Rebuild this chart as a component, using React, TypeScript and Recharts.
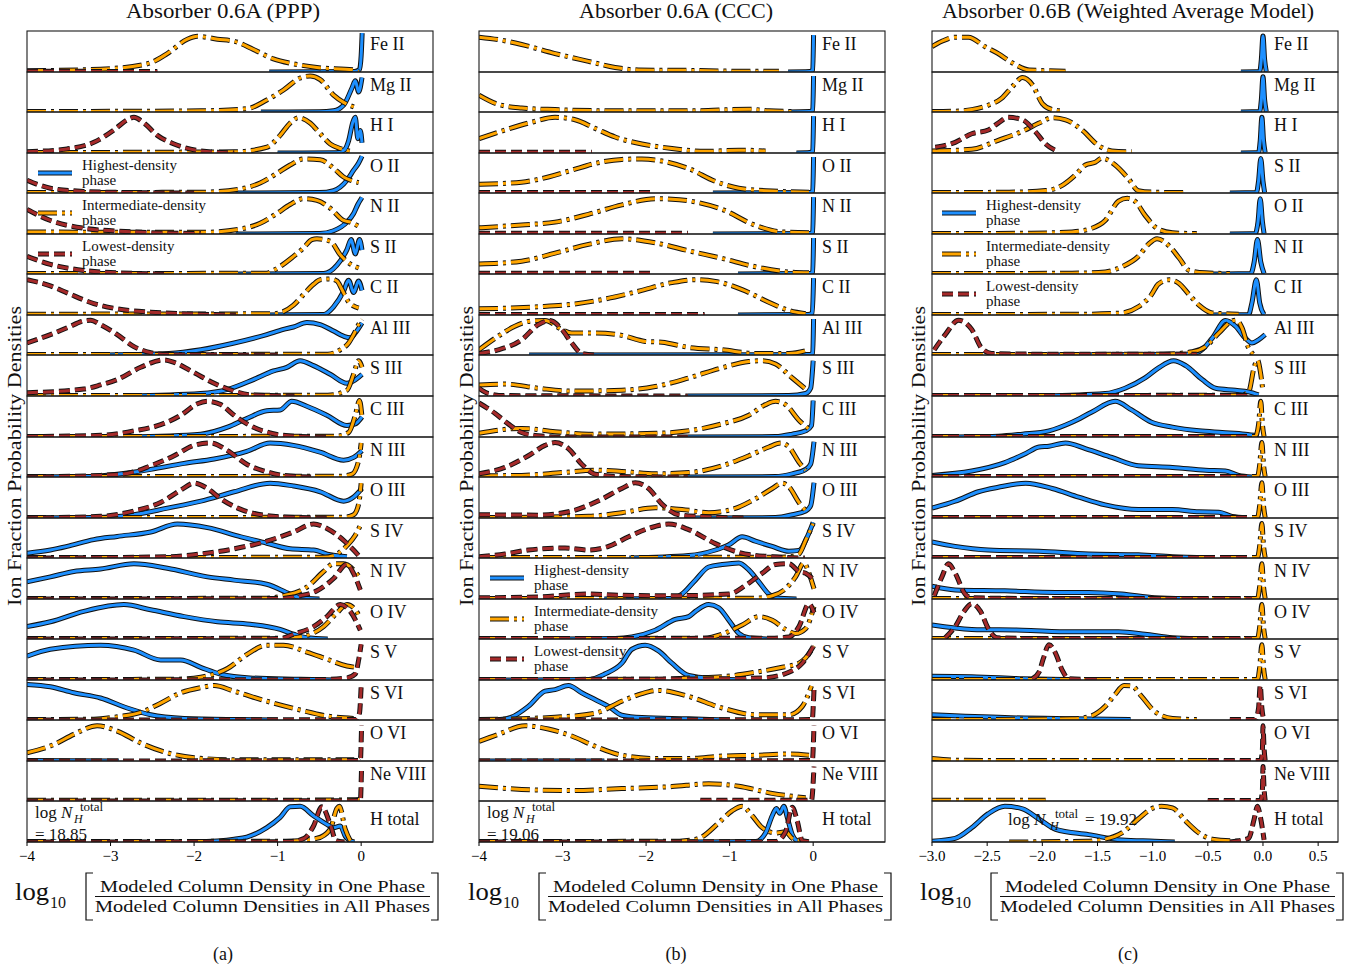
import React from 'react';
import { LineChart, Line, XAxis, YAxis } from 'recharts';

type Pt = [number, number];

// ---------------- labels ----------------
const ROW_LABELS_AB = ['Fe II', 'Mg II', 'H I', 'O II', 'N II', 'S II', 'C II', 'Al III', 'S III', 'C III', 'N III', 'O III', 'S IV', 'N IV', 'O IV', 'S V', 'S VI', 'O VI', 'Ne VIII', 'H total'];
const ROW_LABELS_C = ['Fe II', 'Mg II', 'H I', 'S II', 'O II', 'N II', 'C II', 'Al III', 'S III', 'C III', 'N III', 'O III', 'S IV', 'N IV', 'O IV', 'S V', 'S VI', 'O VI', 'Ne VIII', 'H total'];
const TICKS_AB = [-4, -3, -2, -1, 0];
const TICKS_C = [-3, -2.5, -2, -1.5, -1, -0.5, 0, 0.5];
const TITLES = ['Absorber 0.6A (PPP)', 'Absorber 0.6A (CCC)', 'Absorber 0.6B (Weighted Average Model)'];
const LOG_NH = ['18.85', '19.06', '19.92'];
const SUB_LABELS = ['(a)', '(b)', '(c)'];
const LEGEND_LABELS = ['Highest-density', 'Intermediate-density', 'Lowest-density'];

// ---------------- Panel (a): PPP ----------------
const A_HIGH: Pt[][] = [
  [[-1.1, 0], [-0.08, 0.01], [-0.02, 0.06], [0.0, 0.4], [0.012, 0.95]],
  [[-1.2, 0], [-0.5, 0.005], [-0.33, 0.03], [-0.21, 0.17], [-0.11, 0.6], [-0.07, 0.78], [-0.03, 0.5], [0.01, 0.86]],
  [[-1.0, 0], [-0.3, 0.005], [-0.2, 0.08], [-0.15, 0.3], [-0.1, 0.75], [-0.07, 0.87], [-0.04, 0.35], [-0.01, 0.55], [0.01, 0.25]],
  [[-1.5, 0], [-0.5, 0.01], [-0.33, 0.06], [-0.17, 0.32], [-0.09, 0.57], [-0.03, 0.75], [0.01, 0.92]],
  [[-1.5, 0], [-0.5, 0.01], [-0.33, 0.08], [-0.17, 0.29], [-0.09, 0.5], [-0.04, 0.72], [0.01, 0.89]],
  [[-1.5, 0], [-0.45, 0.01], [-0.29, 0.22], [-0.17, 0.61], [-0.12, 0.86], [-0.07, 0.5], [-0.02, 0.86], [0.01, 0.6]],
  [[-1.2, 0], [-0.45, 0.01], [-0.33, 0.2], [-0.21, 0.58], [-0.15, 0.85], [-0.09, 0.55], [-0.03, 0.83], [0.01, 0.6]],
  [[-3.2, 0], [-2.3, 0.04], [-1.92, 0.13], [-1.52, 0.3], [-1.13, 0.51], [-0.93, 0.64], [-0.81, 0.7], [-0.65, 0.81], [-0.49, 0.76], [-0.33, 0.6], [-0.21, 0.47], [-0.13, 0.43], [-0.07, 0.55], [0.01, 0.8]],
  [[-2.8, 0], [-1.92, 0.06], [-1.6, 0.16], [-1.29, 0.4], [-1.05, 0.61], [-0.89, 0.7], [-0.73, 0.86], [-0.57, 0.74], [-0.37, 0.53], [-0.17, 0.31], [-0.09, 0.37], [0.01, 0.53]],
  [[-2.8, 0], [-1.92, 0.07], [-1.6, 0.24], [-1.37, 0.45], [-1.13, 0.64], [-0.97, 0.66], [-0.83, 0.87], [-0.65, 0.75], [-0.41, 0.53], [-0.17, 0.28], [-0.07, 0.32], [0.01, 0.49]],
  [[-4, 0], [-3.3, 0.01], [-2.92, 0.07], [-2.52, 0.19], [-2.12, 0.34], [-1.76, 0.45], [-1.37, 0.64], [-1.09, 0.85], [-0.81, 0.79], [-0.49, 0.62], [-0.21, 0.42], [-0.09, 0.49], [0.01, 0.66]],
  [[-4, 0], [-3.2, 0.01], [-2.72, 0.08], [-2.32, 0.24], [-1.92, 0.41], [-1.52, 0.64], [-1.09, 0.85], [-0.81, 0.78], [-0.49, 0.64], [-0.21, 0.41], [-0.09, 0.51], [0.01, 0.72]],
  [[-4, 0.12], [-3.72, 0.2], [-3.52, 0.29], [-3.2, 0.46], [-2.92, 0.54], [-2.52, 0.65], [-2.2, 0.85], [-1.84, 0.76], [-1.44, 0.53], [-1.13, 0.37], [-0.85, 0.23], [-0.57, 0.2], [-0.37, 0.08], [-0.17, 0.03]],
  [[-4, 0.42], [-3.72, 0.54], [-3.44, 0.67], [-3.12, 0.73], [-2.72, 0.86], [-2.32, 0.75], [-1.84, 0.54], [-1.52, 0.46], [-1.13, 0.36], [-0.85, 0.12], [-0.73, 0.03], [-0.5, 0]],
  [[-4, 0.31], [-3.72, 0.43], [-3.32, 0.69], [-2.84, 0.86], [-2.52, 0.73], [-2.12, 0.56], [-1.72, 0.43], [-1.33, 0.37], [-0.97, 0.24], [-0.81, 0.12], [-0.65, 0.03], [-0.4, 0]],
  [[-4, 0.58], [-3.72, 0.75], [-3.12, 0.85], [-2.72, 0.73], [-2.4, 0.49], [-2.16, 0.49], [-1.92, 0.31], [-1.68, 0.14], [-1.33, 0.05], [-0.73, 0.02], [-0.3, 0]],
  [[-4, 0.89], [-3.72, 0.83], [-3.44, 0.68], [-3.12, 0.55], [-2.8, 0.3], [-2.52, 0.13], [-2.12, 0.04], [-1.5, 0.01], [-1.0, 0]],
  [[-4, 0.01], [-2.9, 0]],
  [],
  [[-2.0, 0], [-1.52, 0.07], [-1.37, 0.12], [-1.13, 0.35], [-0.97, 0.6], [-0.85, 0.86], [-0.73, 0.87], [-0.57, 0.64], [-0.41, 0.43], [-0.33, 0.35], [-0.25, 0.39], [-0.19, 0.14], [-0.13, 0.03], [-0.08, 0]],
];
const A_MID: Pt[][] = [
  [[-4, 0.03], [-3.12, 0.07], [-2.56, 0.2], [-2.32, 0.45], [-2.08, 0.8], [-1.96, 0.87], [-1.72, 0.8], [-1.52, 0.75], [-1.29, 0.55], [-1.05, 0.32], [-0.81, 0.2], [-0.53, 0.11], [-0.09, 0.05], [-0.03, 0.0]],
  [[-4, 0.01], [-1.92, 0.03], [-1.37, 0.08], [-1.13, 0.3], [-0.93, 0.55], [-0.73, 0.85], [-0.61, 0.9], [-0.49, 0.81], [-0.33, 0.42], [-0.21, 0.24], [-0.05, 0.1]],
  [[-4, 0.01], [-1.52, 0.03], [-1.13, 0.14], [-0.97, 0.43], [-0.85, 0.73], [-0.75, 0.86], [-0.61, 0.73], [-0.49, 0.47], [-0.37, 0.22], [-0.25, 0.11], [-0.13, 0.04]],
  [[-4, 0.01], [-1.9, 0.02], [-1.45, 0.1], [-1.21, 0.25], [-1.01, 0.49], [-0.85, 0.7], [-0.69, 0.85], [-0.49, 0.83], [-0.33, 0.62], [-0.21, 0.4], [-0.13, 0.32], [-0.03, 0.26]],
  [[-4, 0.05], [-1.92, 0.04], [-1.45, 0.12], [-1.21, 0.26], [-1.01, 0.5], [-0.85, 0.72], [-0.69, 0.86], [-0.53, 0.82], [-0.37, 0.63], [-0.21, 0.33], [-0.13, 0.29], [-0.03, 0.19]],
  [[-4, 0.01], [-1.13, 0.02], [-1.05, 0.09], [-0.81, 0.44], [-0.69, 0.65], [-0.59, 0.86], [-0.53, 0.88], [-0.37, 0.82], [-0.25, 0.48], [-0.17, 0.31], [-0.03, 0.15]],
  [[-4, 0.02], [-1.05, 0.03], [-0.81, 0.24], [-0.69, 0.5], [-0.57, 0.75], [-0.49, 0.86], [-0.37, 0.88], [-0.29, 0.83], [-0.23, 0.62], [-0.15, 0.32], [-0.03, 0.17]],
  [[-4, 0.01], [-0.4, 0.02], [-0.25, 0.13], [-0.15, 0.3], [-0.09, 0.51], [-0.03, 0.76], [0.01, 0.89]],
  [[-4, 0.01], [-0.4, 0.02], [-0.17, 0.14], [-0.09, 0.53], [-0.03, 0.86], [0.01, 0.7]],
  [[-4, 0.01], [-0.3, 0.02], [-0.15, 0.11], [-0.07, 0.53], [-0.02, 0.89], [0.01, 0.49]],
  [[-4, 0.01], [-0.25, 0.02], [-0.11, 0.07], [-0.03, 0.41], [0.0, 0.85]],
  [[-4, 0.01], [-0.2, 0.02], [-0.09, 0.08], [-0.03, 0.34], [0.0, 0.85]],
  [[-4, 0.01], [-0.45, 0.02], [-0.33, 0.06], [-0.17, 0.31], [-0.07, 0.57], [0.0, 0.86]],
  [[-4, 0.01], [-1.13, 0.02], [-0.93, 0.08], [-0.65, 0.29], [-0.45, 0.67], [-0.33, 0.86], [-0.21, 0.86], [-0.09, 0.71], [-0.01, 0.5]],
  [[-4, 0.01], [-0.9, 0.02], [-0.65, 0.09], [-0.45, 0.31], [-0.29, 0.65], [-0.17, 0.86], [-0.07, 0.73], [-0.01, 0.52]],
  [[-4, 0.01], [-2.2, 0.02], [-1.92, 0.07], [-1.6, 0.28], [-1.37, 0.62], [-1.13, 0.85], [-0.93, 0.85], [-0.65, 0.68], [-0.41, 0.51], [-0.17, 0.34], [-0.07, 0.31]],
  [[-4, 0.01], [-3.2, 0.02], [-2.92, 0.08], [-2.64, 0.19], [-2.4, 0.42], [-2.16, 0.68], [-1.92, 0.81], [-1.76, 0.86], [-1.52, 0.72], [-1.13, 0.47], [-0.73, 0.25], [-0.41, 0.1], [-0.09, 0.04]],
  [[-4, 0.2], [-3.68, 0.4], [-3.44, 0.65], [-3.16, 0.86], [-2.92, 0.73], [-2.64, 0.44], [-2.32, 0.2], [-2.0, 0.08], [-1.52, 0.03], [-0.09, 0.03], [-0.02, 0.08]],
  [[-4, 0.02], [-1.0, 0.02], [-0.1, 0.03], [-0.02, 0.04]],
  [[-4, 0.01], [-0.9, 0.02], [-0.53, 0.09], [-0.37, 0.31], [-0.29, 0.82], [-0.26, 0.87], [-0.19, 0.31], [-0.13, 0.03]],
];
const A_LOW: Pt[][] = [
  [[-4, 0.02], [-2.44, 0.01]],
  [],
  [[-4, 0.03], [-3.52, 0.1], [-3.2, 0.26], [-2.96, 0.56], [-2.8, 0.81], [-2.72, 0.87], [-2.6, 0.73], [-2.44, 0.43], [-2.24, 0.22], [-1.92, 0.05], [-1.52, 0.0]],
  [[-4, 0.32], [-3.72, 0.12], [-3.32, 0.04], [-2.72, 0.01], [-2.0, 0]],
  [[-4, 0.6], [-3.72, 0.33], [-3.32, 0.14], [-2.72, 0.05], [-1.92, 0.01]],
  [[-4, 0.44], [-3.72, 0.24], [-3.32, 0.09], [-2.92, 0.03], [-2.3, 0]],
  [[-4, 0.86], [-3.72, 0.71], [-3.52, 0.54], [-3.2, 0.28], [-2.92, 0.15], [-2.52, 0.07], [-2.12, 0.03], [-1.5, 0]],
  [[-4, 0.3], [-3.72, 0.51], [-3.52, 0.68], [-3.32, 0.85], [-3.24, 0.87], [-3.12, 0.76], [-2.92, 0.51], [-2.72, 0.21], [-2.52, 0.06], [-2.32, 0.01], [-1.0, 0]],
  [[-4, 0.08], [-3.32, 0.17], [-3.12, 0.27], [-2.92, 0.4], [-2.64, 0.7], [-2.36, 0.88], [-2.24, 0.82], [-2.0, 0.57], [-1.76, 0.31], [-1.52, 0.12], [-1.33, 0.03], [-0.8, 0]],
  [[-4, 0.01], [-3.12, 0.04], [-2.72, 0.15], [-2.4, 0.3], [-2.16, 0.53], [-1.96, 0.81], [-1.84, 0.87], [-1.68, 0.79], [-1.52, 0.53], [-1.33, 0.28], [-1.05, 0.08], [-0.73, 0.01], [-0.4, 0]],
  [[-4, 0], [-3.12, 0.04], [-2.8, 0.09], [-2.52, 0.28], [-2.24, 0.53], [-2.0, 0.79], [-1.8, 0.85], [-1.6, 0.66], [-1.37, 0.32], [-1.13, 0.13], [-0.93, 0.04], [-0.6, 0]],
  [[-4, 0], [-3.12, 0.04], [-2.72, 0.17], [-2.4, 0.38], [-2.16, 0.68], [-2.0, 0.85], [-1.84, 0.72], [-1.68, 0.47], [-1.44, 0.21], [-1.13, 0.06], [-0.73, 0.01], [-0.4, 0]],
  [[-4, 0], [-2.32, 0.03], [-1.92, 0.1], [-1.52, 0.23], [-1.13, 0.42], [-0.81, 0.65], [-0.57, 0.85], [-0.41, 0.74], [-0.21, 0.44], [-0.03, 0.06]],
  [[-4, 0], [-1.0, 0.01], [-0.73, 0.08], [-0.53, 0.2], [-0.33, 0.5], [-0.17, 0.85], [-0.09, 0.62], [-0.01, 0.22]],
  [[-4, 0], [-0.97, 0.01], [-0.81, 0.12], [-0.57, 0.31], [-0.41, 0.56], [-0.25, 0.86], [-0.13, 0.69], [-0.01, 0.22]],
  [[-4, 0], [-0.5, 0.01], [-0.17, 0.05], [-0.07, 0.15], [-0.03, 0.49], [0.0, 0.87]],
  [[-4, 0], [-0.05, 0.01], [-0.02, 0.17], [0.0, 0.85]],
  [[-4, 0], [-0.01, 0.01], [0.005, 0.86]],
  [[-4, 0], [-0.01, 0.01], [0.005, 0.86]],
  [[-4, 0], [-0.85, 0.01], [-0.68, 0.09], [-0.57, 0.39], [-0.47, 0.86], [-0.37, 0.43], [-0.3, 0.03], [-0.2, 0]],
];

// ---------------- Panel (b): CCC ----------------
const B_HIGH: Pt[][] = [
  [[-0.3, 0], [-0.04, 0.01], [-0.005, 0.05], [0.005, 0.9]],
  [[-0.3, 0], [-0.04, 0.01], [-0.005, 0.05], [0.005, 0.9]],
  [[-0.2, 0], [-0.04, 0.01], [-0.005, 0.05], [0.005, 0.9]],
  [[-1.2, 0], [-0.04, 0.01], [-0.005, 0.05], [0.005, 0.9]],
  [[-1.2, 0], [-0.04, 0.01], [-0.005, 0.05], [0.005, 0.9]],
  [[-0.9, 0], [-0.04, 0.01], [-0.005, 0.05], [0.005, 0.9]],
  [[-0.9, 0], [-0.06, 0.01], [-0.01, 0.05], [0.005, 0.9]],
  [[-3.4, 0], [-0.04, 0.01], [-0.005, 0.05], [0.005, 0.9]],
  [[-1.5, 0], [-0.29, 0.01], [-0.09, 0.06], [-0.03, 0.19], [0.0, 0.86]],
  [[-1.5, 0], [-0.45, 0.01], [-0.25, 0.07], [-0.09, 0.15], [-0.02, 0.28], [0.0, 0.89]],
  [[-1.5, 0], [-0.45, 0.01], [-0.25, 0.08], [-0.09, 0.19], [-0.03, 0.32], [0.01, 0.88]],
  [[-1.5, 0], [-0.45, 0.01], [-0.25, 0.08], [-0.09, 0.17], [-0.03, 0.3], [0.01, 0.86]],
  [[-2.2, 0], [-1.49, 0.06], [-1.17, 0.2], [-1.01, 0.33], [-0.85, 0.53], [-0.69, 0.42], [-0.49, 0.29], [-0.29, 0.17], [-0.17, 0.19], [-0.07, 0.53], [0.0, 0.89]],
  [[-2.5, 0], [-1.69, 0.01], [-1.57, 0.12], [-1.41, 0.46], [-1.25, 0.78], [-1.09, 0.84], [-0.89, 0.88], [-0.77, 0.71], [-0.65, 0.42], [-0.53, 0.12], [-0.45, 0.03], [-0.2, 0]],
  [[-3, 0], [-2.37, 0.01], [-2.17, 0.05], [-1.89, 0.22], [-1.65, 0.49], [-1.49, 0.56], [-1.41, 0.69], [-1.25, 0.86], [-1.13, 0.78], [-1.01, 0.47], [-0.89, 0.14], [-0.77, 0.03], [-0.5, 0]],
  [[-4, 0], [-2.69, 0.01], [-2.49, 0.15], [-2.29, 0.41], [-2.17, 0.75], [-2.01, 0.85], [-1.85, 0.71], [-1.69, 0.41], [-1.49, 0.11], [-1.17, 0.03], [-0.8, 0]],
  [[-4, 0], [-3.75, 0.01], [-3.61, 0.07], [-3.41, 0.34], [-3.21, 0.72], [-3.09, 0.76], [-2.93, 0.86], [-2.77, 0.68], [-2.61, 0.51], [-2.45, 0.34], [-2.29, 0.12], [-2.05, 0.06], [-1.49, 0.03], [-1.0, 0]],
  [[-4, 0], [-2.5, 0]],
  [],
  [[-1.5, 0], [-0.69, 0.01], [-0.57, 0.22], [-0.49, 0.64], [-0.44, 0.82], [-0.4, 0.7], [-0.35, 0.87], [-0.31, 0.6], [-0.25, 0.18], [-0.19, 0.03], [-0.1, 0]],
];
const B_MID: Pt[][] = [
  [[-4, 0.85], [-3.77, 0.79], [-3.49, 0.67], [-3.09, 0.45], [-2.69, 0.26], [-2.37, 0.11], [-2.09, 0.05], [-1.49, 0.04], [-0.89, 0.02], [-0.41, 0.02]],
  [[-4, 0.42], [-3.77, 0.19], [-3.49, 0.1], [-3.09, 0.06], [-2.29, 0.03], [-1.49, 0.03], [-0.77, 0.07], [-0.53, 0.03], [-0.2, 0.01]],
  [[-4, 0.35], [-3.69, 0.56], [-3.37, 0.75], [-3.09, 0.87], [-2.85, 0.81], [-2.61, 0.6], [-2.37, 0.39], [-2.05, 0.22], [-1.69, 0.11], [-1.29, 0.04], [-0.89, 0.07], [-0.57, 0.05]],
  [[-4, 0.22], [-3.49, 0.27], [-3.17, 0.4], [-2.89, 0.57], [-2.61, 0.74], [-2.29, 0.84], [-2.05, 0.85], [-1.81, 0.8], [-1.49, 0.61], [-1.17, 0.29], [-0.89, 0.12], [-0.49, 0.05], [-0.05, 0.02]],
  [[-4, 0.15], [-3.49, 0.22], [-3.09, 0.29], [-2.69, 0.48], [-2.29, 0.71], [-1.89, 0.86], [-1.69, 0.85], [-1.41, 0.78], [-1.09, 0.6], [-0.69, 0.21], [-0.37, 0.05], [-0.05, 0.03]],
  [[-4, 0.25], [-3.49, 0.32], [-3.09, 0.52], [-2.69, 0.74], [-2.29, 0.88], [-1.89, 0.78], [-1.49, 0.58], [-1.09, 0.39], [-0.69, 0.18], [-0.29, 0.05], [-0.05, 0.03]],
  [[-4, 0.15], [-3.29, 0.2], [-2.89, 0.26], [-2.49, 0.39], [-2.09, 0.58], [-1.69, 0.79], [-1.41, 0.86], [-1.17, 0.82], [-0.85, 0.62], [-0.53, 0.31], [-0.29, 0.11], [-0.09, 0.03]],
  [[-4, 0.13], [-3.77, 0.47], [-3.57, 0.72], [-3.37, 0.85], [-3.21, 0.86], [-3.01, 0.64], [-2.89, 0.55], [-2.61, 0.55], [-2.29, 0.49], [-2.01, 0.34], [-1.81, 0.32], [-1.49, 0.19], [-1.09, 0.13], [-0.69, 0.04], [-0.29, 0.04], [-0.05, 0.13]],
  [[-4, 0.27], [-3.69, 0.29], [-3.29, 0.19], [-2.89, 0.12], [-2.29, 0.14], [-1.89, 0.23], [-1.49, 0.44], [-1.09, 0.69], [-0.77, 0.84], [-0.61, 0.86], [-0.45, 0.78], [-0.25, 0.44], [-0.09, 0.17]],
  [[-4, 0.09], [-3.49, 0.21], [-3.09, 0.13], [-2.69, 0.07], [-1.89, 0.09], [-1.49, 0.15], [-1.09, 0.32], [-0.77, 0.53], [-0.57, 0.79], [-0.45, 0.87], [-0.33, 0.79], [-0.17, 0.41], [-0.05, 0.19]],
  [[-4, 0.03], [-3.49, 0.04], [-3.01, 0.11], [-2.61, 0.17], [-2.29, 0.14], [-1.89, 0.08], [-1.49, 0.11], [-1.09, 0.28], [-0.77, 0.53], [-0.53, 0.75], [-0.39, 0.85], [-0.29, 0.75], [-0.17, 0.37], [-0.09, 0.17]],
  [[-4, 0.01], [-2.69, 0.04], [-2.29, 0.13], [-1.89, 0.25], [-1.57, 0.21], [-1.25, 0.13], [-0.97, 0.21], [-0.69, 0.47], [-0.49, 0.72], [-0.37, 0.85], [-0.29, 0.76], [-0.17, 0.38], [-0.07, 0.13]],
  [[-4, 0.01], [-0.49, 0.02], [-0.29, 0.03], [-0.17, 0.1], [-0.09, 0.44], [0.0, 0.86]],
  [[-4, 0.01], [-0.7, 0.02], [-0.49, 0.08], [-0.33, 0.25], [-0.21, 0.54], [-0.11, 0.88], [-0.05, 0.63], [0.01, 0.25]],
  [[-4, 0.01], [-1.3, 0.02], [-1.09, 0.12], [-0.85, 0.35], [-0.65, 0.56], [-0.49, 0.47], [-0.33, 0.24], [-0.21, 0.14], [-0.09, 0.26], [0.01, 0.81]],
  [[-4, 0.01], [-1.8, 0.02], [-1.49, 0.05], [-1.09, 0.08], [-0.69, 0.19], [-0.37, 0.31], [-0.17, 0.41], [-0.09, 0.54], [0.01, 0.83]],
  [[-4, 0.01], [-3.09, 0.07], [-2.61, 0.17], [-2.29, 0.47], [-2.05, 0.66], [-1.85, 0.74], [-1.49, 0.59], [-1.09, 0.3], [-0.69, 0.13], [-0.29, 0.13], [-0.13, 0.34], [-0.02, 0.85]],
  [[-4, 0.48], [-3.77, 0.65], [-3.45, 0.86], [-3.17, 0.78], [-2.89, 0.61], [-2.61, 0.36], [-2.29, 0.14], [-1.89, 0.06], [-1.49, 0.06], [-1.09, 0.12], [-0.69, 0.14], [-0.29, 0.17], [-0.05, 0.14]],
  [[-4, 0.37], [-3.49, 0.29], [-2.89, 0.26], [-2.29, 0.31], [-1.69, 0.36], [-1.25, 0.43], [-0.89, 0.37], [-0.49, 0.19], [-0.09, 0.08]],
  [[-4, 0.01], [-1.6, 0.02], [-1.37, 0.09], [-1.13, 0.47], [-0.97, 0.76], [-0.85, 0.87], [-0.73, 0.64], [-0.61, 0.35], [-0.45, 0.22], [-0.33, 0.25], [-0.25, 0.09], [-0.13, 0.03]],
];
const B_LOW: Pt[][] = [
  [],
  [],
  [[-4, 0.02], [-2.65, 0.02]],
  [[-4, 0.01], [-1.9, 0.01]],
  [[-4, 0.02], [-1.5, 0.02]],
  [[-4, 0.02], [-1.9, 0.02]],
  [[-4, 0.01], [-1.3, 0.01]],
  [[-4, 0.04], [-3.77, 0.13], [-3.49, 0.38], [-3.29, 0.76], [-3.15, 0.86], [-3.01, 0.64], [-2.89, 0.3], [-2.77, 0.04], [-2.6, 0]],
  [[-4, 0.19], [-3.89, 0.06], [-3.7, 0.01], [-1.5, 0]],
  [[-4, 0.83], [-3.81, 0.58], [-3.65, 0.32], [-3.49, 0.11], [-3.29, 0.03], [-3.0, 0], [-1.5, 0]],
  [[-4, 0.08], [-3.69, 0.24], [-3.41, 0.53], [-3.21, 0.79], [-3.09, 0.86], [-2.93, 0.71], [-2.77, 0.32], [-2.61, 0.07], [-2.29, 0.01], [-1.5, 0]],
  [[-4, 0.08], [-3.29, 0.07], [-2.89, 0.17], [-2.57, 0.42], [-2.29, 0.72], [-2.13, 0.86], [-1.97, 0.72], [-1.81, 0.34], [-1.61, 0.08], [-1.29, 0.03], [-0.8, 0]],
  [[-4, 0.03], [-3.69, 0.1], [-3.41, 0.2], [-2.97, 0.25], [-2.69, 0.2], [-2.45, 0.29], [-2.21, 0.53], [-1.97, 0.74], [-1.73, 0.85], [-1.49, 0.71], [-1.17, 0.36], [-0.89, 0.14], [-0.49, 0.03], [-0.1, 0]],
  [[-4, 0.03], [-3.29, 0.05], [-2.69, 0.12], [-2.29, 0.09], [-1.69, 0.08], [-1.01, 0.12], [-0.81, 0.33], [-0.61, 0.63], [-0.45, 0.84], [-0.29, 0.86], [-0.17, 0.67], [-0.09, 0.63], [0.01, 0.46]],
  [[-4, 0.01], [-0.5, 0.02], [-0.29, 0.05], [-0.17, 0.31], [-0.05, 0.88], [0.01, 0.66]],
  [[-4, 0.01], [-1.09, 0.03], [-0.61, 0.05], [-0.29, 0.19], [-0.13, 0.41], [0.01, 0.85]],
  [[-4, 0], [-0.01, 0.01], [0.0, 0.3], [0.01, 0.75]],
  [[-4, 0], [-0.01, 0.01], [0.01, 0.86]],
  [[-1.35, 0.02], [-0.02, 0.02], [0.01, 0.86]],
  [[-4, 0], [-0.45, 0.01], [-0.33, 0.25], [-0.25, 0.85], [-0.19, 0.51], [-0.13, 0.03], [0, 0]],
];

// ---------------- Panel (c): Weighted Average Model ----------------
const C_HIGH: Pt[][] = [
  [[-0.2, 0], [-0.03, 0.01], [-0.015, 0.3], [0.0, 0.88], [0.015, 0.3], [0.03, 0.01]],
  [[-0.2, 0], [-0.03, 0.01], [-0.015, 0.3], [0.0, 0.88], [0.015, 0.3], [0.03, 0.01]],
  [[-0.2, 0], [-0.04, 0.01], [-0.025, 0.3], [-0.01, 0.87], [0.005, 0.3], [0.02, 0.01]],
  [[-0.3, 0], [-0.06, 0.01], [-0.04, 0.3], [-0.02, 0.86], [0.0, 0.3], [0.015, 0.01]],
  [[-0.3, 0], [-0.07, 0.01], [-0.045, 0.3], [-0.025, 0.86], [-0.005, 0.3], [0.01, 0.01]],
  [[-0.5, 0], [-0.11, 0.01], [-0.08, 0.3], [-0.05, 0.86], [-0.02, 0.3], [0.01, 0.01]],
  [[-0.5, 0], [-0.13, 0.01], [-0.1, 0.3], [-0.06, 0.86], [-0.03, 0.3], [0.01, 0.01]],
  [[-2.0, 0], [-0.7, 0.02], [-0.58, 0.08], [-0.46, 0.42], [-0.34, 0.86], [-0.25, 0.72], [-0.16, 0.42], [-0.1, 0.3], [-0.04, 0.38], [0.02, 0.51]],
  [[-2.0, 0], [-1.43, 0.06], [-1.25, 0.19], [-1.07, 0.44], [-0.95, 0.68], [-0.81, 0.86], [-0.7, 0.74], [-0.55, 0.4], [-0.43, 0.19], [-0.25, 0.14], [-0.13, 0.1], [-0.04, 0.03]],
  [[-3, 0], [-2.4, 0.02], [-2.18, 0.07], [-1.94, 0.15], [-1.73, 0.36], [-1.55, 0.61], [-1.34, 0.87], [-1.19, 0.66], [-1.01, 0.36], [-0.82, 0.24], [-0.58, 0.15], [-0.37, 0.11], [-0.16, 0.07], [-0.04, 0.03]],
  [[-3, 0.04], [-2.64, 0.15], [-2.34, 0.36], [-2.15, 0.59], [-2.03, 0.75], [-1.94, 0.77], [-1.79, 0.85], [-1.61, 0.71], [-1.37, 0.49], [-1.13, 0.28], [-0.82, 0.24], [-0.52, 0.17], [-0.34, 0.15], [-0.22, 0.04], [-0.1, 0]],
  [[-3, 0.24], [-2.79, 0.41], [-2.58, 0.64], [-2.4, 0.75], [-2.15, 0.85], [-1.91, 0.72], [-1.67, 0.51], [-1.43, 0.32], [-1.13, 0.21], [-0.82, 0.21], [-0.58, 0.15], [-0.4, 0.14], [-0.28, 0.04], [-0.15, 0.01]],
  [[-3, 0.4], [-2.79, 0.29], [-2.49, 0.2], [-2.03, 0.17], [-1.58, 0.1], [-1.13, 0.08], [-0.82, 0.03], [-0.5, 0.01]],
  [[-3, 0.31], [-2.79, 0.22], [-2.34, 0.2], [-1.88, 0.16], [-1.58, 0.16], [-1.28, 0.12], [-0.98, 0.03], [-0.7, 0.01]],
  [[-3, 0.35], [-2.64, 0.24], [-2.18, 0.22], [-1.73, 0.18], [-1.31, 0.18], [-1.07, 0.12], [-0.82, 0.03], [-0.6, 0.01]],
  [[-3, 0.09], [-2.64, 0.08], [-2.18, 0.03], [-1.8, 0.01]],
  [[-3, 0.13], [-2.34, 0.06], [-1.73, 0.03], [-1.2, 0.01]],
  [],
  [],
  [[-3, 0.02], [-2.79, 0.09], [-2.64, 0.35], [-2.49, 0.69], [-2.34, 0.87], [-2.18, 0.81], [-2.03, 0.56], [-1.88, 0.31], [-1.58, 0.18], [-1.28, 0.05], [-0.98, 0.02], [-0.8, 0]],
];
const C_MID: Pt[][] = [
  [[-3, 0.62], [-2.91, 0.75], [-2.79, 0.85], [-2.67, 0.85], [-2.52, 0.62], [-2.4, 0.45], [-2.27, 0.22], [-2.12, 0.05], [-1.79, 0.02]],
  [[-3, 0.01], [-2.79, 0.02], [-2.64, 0.06], [-2.49, 0.17], [-2.37, 0.34], [-2.27, 0.64], [-2.18, 0.86], [-2.09, 0.68], [-2.0, 0.21], [-1.91, 0.06], [-1.82, 0.03]],
  [[-3, 0.05], [-2.64, 0.09], [-2.4, 0.31], [-2.18, 0.53], [-2.03, 0.73], [-1.91, 0.86], [-1.79, 0.81], [-1.64, 0.56], [-1.49, 0.18], [-1.37, 0.05], [-1.19, 0.03]],
  [[-3, 0.01], [-2.3, 0.02], [-1.97, 0.06], [-1.82, 0.19], [-1.7, 0.45], [-1.61, 0.7], [-1.52, 0.77], [-1.46, 0.87], [-1.34, 0.7], [-1.22, 0.36], [-1.13, 0.06], [-0.98, 0.02], [-0.7, 0.01]],
  [[-3, 0.01], [-2.1, 0.02], [-1.73, 0.05], [-1.55, 0.14], [-1.43, 0.33], [-1.31, 0.8], [-1.23, 0.87], [-1.16, 0.8], [-1.07, 0.46], [-0.95, 0.12], [-0.82, 0.03], [-0.6, 0.01]],
  [[-3, 0.01], [-1.73, 0.02], [-1.43, 0.05], [-1.28, 0.18], [-1.13, 0.44], [-1.04, 0.74], [-0.96, 0.88], [-0.85, 0.7], [-0.76, 0.4], [-0.67, 0.09], [-0.52, 0.03], [-0.3, 0.01]],
  [[-3, 0.01], [-1.6, 0.02], [-1.28, 0.05], [-1.13, 0.2], [-1.01, 0.5], [-0.95, 0.75], [-0.85, 0.86], [-0.76, 0.77], [-0.67, 0.5], [-0.58, 0.24], [-0.46, 0.05], [-0.22, 0.02]],
  [[-3, 0.01], [-0.9, 0.02], [-0.64, 0.08], [-0.52, 0.21], [-0.4, 0.55], [-0.28, 0.85], [-0.24, 0.87], [-0.19, 0.68], [-0.13, 0.17], [-0.09, 0.02]],
  [[-3, 0.01], [-0.2, 0.02], [-0.13, 0.1], [-0.08, 0.7], [-0.05, 0.88], [-0.02, 0.53], [0.0, 0.1]],
  [[-3, 0.01], [-0.07, 0.01], [-0.04, 0.3], [-0.02, 0.87], [-0.005, 0.3], [0.01, 0.01]],
  [[-3, 0.01], [-0.05, 0.01], [-0.03, 0.3], [-0.01, 0.86], [0.005, 0.3], [0.02, 0.01]],
  [[-3, 0.01], [-0.05, 0.01], [-0.03, 0.3], [-0.01, 0.86], [0.005, 0.3], [0.02, 0.01]],
  [[-3, 0.01], [-0.05, 0.01], [-0.03, 0.3], [-0.01, 0.86], [0.005, 0.3], [0.02, 0.01]],
  [[-3, 0.01], [-0.05, 0.01], [-0.03, 0.3], [-0.01, 0.86], [0.005, 0.3], [0.02, 0.01]],
  [[-3, 0.01], [-0.05, 0.01], [-0.03, 0.3], [-0.01, 0.86], [0.005, 0.3], [0.02, 0.01]],
  [[-3, 0.01], [-0.05, 0.01], [-0.03, 0.3], [-0.01, 0.86], [0.005, 0.3], [0.02, 0.01]],
  [[-3, 0.01], [-1.73, 0.03], [-1.58, 0.08], [-1.43, 0.34], [-1.34, 0.64], [-1.26, 0.86], [-1.19, 0.85], [-1.1, 0.59], [-0.98, 0.21], [-0.82, 0.04], [-0.6, 0.01]],
  [[-3, 0.06], [-2.79, 0.02], [-2.4, 0.01], [-0.5, 0.01]],
  [[-3, 0.02], [-1.97, 0.02]],
  [[-2.3, 0], [-1.6, 0.02], [-1.43, 0.07], [-1.28, 0.22], [-1.13, 0.56], [-1.01, 0.81], [-0.92, 0.87], [-0.82, 0.83], [-0.7, 0.51], [-0.58, 0.22], [-0.46, 0.07], [-0.22, 0.02]],
];
const C_LOW: Pt[][] = [
  [],
  [],
  [[-2.97, 0.14], [-2.79, 0.26], [-2.64, 0.47], [-2.49, 0.56], [-2.4, 0.73], [-2.31, 0.87], [-2.18, 0.81], [-2.06, 0.51], [-1.97, 0.22], [-1.85, 0.03]],
  [],
  [],
  [],
  [],
  [[-2.98, 0.13], [-2.88, 0.51], [-2.76, 0.87], [-2.64, 0.64], [-2.55, 0.17], [-2.46, 0.04], [-2.0, 0.02], [-0.6, 0.02]],
  [[-3, 0.01], [-0.1, 0.01]],
  [[-3, 0.01], [-0.1, 0.01]],
  [[-3, 0.01], [-0.1, 0.01]],
  [[-3, 0.01], [-0.1, 0.01]],
  [[-3, 0.01], [-0.1, 0.01]],
  [[-2.98, 0.08], [-2.91, 0.54], [-2.85, 0.86], [-2.79, 0.63], [-2.7, 0.12], [-2.64, 0.03], [-2.0, 0.01], [-0.1, 0.01]],
  [[-2.88, 0.03], [-2.79, 0.31], [-2.71, 0.69], [-2.64, 0.88], [-2.56, 0.69], [-2.49, 0.26], [-2.41, 0.03], [-2.0, 0.01], [-0.1, 0.01]],
  [[-2.09, 0.03], [-2.03, 0.19], [-1.99, 0.53], [-1.94, 0.86], [-1.88, 0.65], [-1.82, 0.24], [-1.76, 0.03], [-1.5, 0.01]],
  [[-0.3, 0.01], [-0.07, 0.01], [-0.04, 0.3], [-0.025, 0.86], [-0.01, 0.3], [0.005, 0.01]],
  [[-0.5, 0.01], [-0.02, 0.01], [-0.005, 0.3], [0.0, 0.86], [0.01, 0.3], [0.02, 0.01]],
  [[-0.5, 0.01], [-0.02, 0.01], [-0.005, 0.3], [0.0, 0.86], [0.01, 0.3], [0.02, 0.01]],
  [[-0.3, 0], [-0.13, 0.09], [-0.08, 0.56], [-0.05, 0.87], [-0.02, 0.56], [0.01, 0.05]],
];

// ---------------- layout / style ----------------
const FONT = '"Liberation Serif", "DejaVu Serif", serif';
const BLUE = '#1E90FF';
const ORANGE = '#FFA500';
const RED = '#A52A2A';
const ROW_Y0 = 31;
const ROW_H = 40.55;
const N_ROWS = 20;
const rowTop = (i: number) => Math.round(ROW_Y0 + i * ROW_H);

interface PanelCfg {
  left: number;
  width: number;
  domain: [number, number];
  ticks: number[];
  fmt: (v: number) => string;
  labels: string[];
  labelX: number;
  high: Pt[][];
  mid: Pt[][];
  low: Pt[][];
  center: number;
  ylabelX: number;
  legendRow: number;
  legendX: number;
}

const fmtInt = (v: number) => (v < 0 ? '\u2212' + Math.abs(v) : String(v));
const fmtDec = (v: number) => (v < 0 ? '\u2212' + Math.abs(v).toFixed(1) : v.toFixed(1));

const PANELS: PanelCfg[] = [
  { left: 27, width: 406, domain: [-4, 0.86], ticks: TICKS_AB, fmt: fmtInt, labels: ROW_LABELS_AB, labelX: 370, high: A_HIGH, mid: A_MID, low: A_LOW, center: 223, ylabelX: 14, legendRow: 3, legendX: 38 },
  { left: 479, width: 406, domain: [-4, 0.86], ticks: TICKS_AB, fmt: fmtInt, labels: ROW_LABELS_AB, labelX: 822, high: B_HIGH, mid: B_MID, low: B_LOW, center: 676, ylabelX: 466, legendRow: 13, legendX: 490 },
  { left: 932, width: 406, domain: [-3, 0.68], ticks: TICKS_C, fmt: fmtDec, labels: ROW_LABELS_C, labelX: 1274, high: C_HIGH, mid: C_MID, low: C_LOW, center: 1128, ylabelX: 918, legendRow: 4, legendX: 942 },
];

const DASH_MID = '19 5 3 5';
const DASH_LOW = '11 5';

function seriesLines(curve: Pt[], color: string, dash: string | undefined, key: string) {
  if (!curve || curve.length === 0) return [];
  const d = curve.map(([x, y]) => ({ x, y }));
  return [
    <Line key={key + '-o'} data={d} dataKey="y" type="monotone" stroke="#111" strokeWidth={5} strokeDasharray={dash} dot={false} activeDot={false} isAnimationActive={false} strokeLinejoin="round" />,
    <Line key={key + '-c'} data={d} dataKey="y" type="monotone" stroke={color} strokeWidth={3} strokeDasharray={dash} dot={false} activeDot={false} isAnimationActive={false} strokeLinejoin="round" />,
  ];
}

function RowChart({ p, i }: { p: PanelCfg; i: number }) {
  const top = rowTop(i);
  const h = rowTop(i + 1) - top;
  const last = i === N_ROWS - 1;
  return (
    <div className={last ? 'lastrow' : undefined} style={{ position: 'absolute', left: p.left, top, width: p.width, height: last ? h + 32 : h }}>
      <LineChart width={p.width} height={last ? h + 32 : h} margin={{ top: 0, right: 0, bottom: 0, left: 0 }}>
        <XAxis
          type="number"
          dataKey="x"
          domain={p.domain}
          allowDataOverflow
          hide={!last}
          ticks={p.ticks}
          tickFormatter={p.fmt}
          interval={0}
          height={32}
          tickSize={4}
          tickMargin={4}
          axisLine={{ stroke: '#000', strokeWidth: 1 }}
          tickLine={{ stroke: '#000', strokeWidth: 1 }}
          tick={{ fontSize: 15, fontFamily: FONT, fill: '#000' }}
        />
        <YAxis type="number" domain={[0, 1]} allowDataOverflow hide />
        {seriesLines(p.high[i], BLUE, undefined, 'h')}
        {seriesLines(p.mid[i], ORANGE, DASH_MID, 'm')}
        {seriesLines(p.low[i], RED, DASH_LOW, 'l')}
      </LineChart>
    </div>
  );
}

function Overlay() {
  const els: React.ReactNode[] = [];
  PANELS.forEach((p, pi) => {
    const dx = p.center - 223;
    for (let i = 0; i < N_ROWS; i++) {
      const t = rowTop(i);
      const h = rowTop(i + 1) - t;
      els.push(<rect key={`f${pi}-${i}`} x={p.left} y={t} width={p.width} height={h} fill="none" stroke="#1a1a1a" strokeWidth={1.1} />);
      const isLast = i === N_ROWS - 1;
      els.push(
        <text key={`rl${pi}-${i}`} x={p.labelX} y={t + (isLast ? 24 : 19)} fontSize={18} fontFamily={FONT} fill="#111">
          {p.labels[i]}
        </text>
      );
    }
    els.push(
      <text key={`t${pi}`} x={p.center} y={18} fontSize={20} fontFamily={FONT} textAnchor="middle" fill="#111" textLength={TITLES[pi].length > 25 ? 372 : 194} lengthAdjust="spacingAndGlyphs">
        {TITLES[pi]}
      </text>
    );
    els.push(
      <text key={`yl${pi}`} transform={`translate(${p.ylabelX},456) rotate(-90)`} textAnchor="middle" dominantBaseline="central" fontSize={19} fontFamily={FONT} fill="#111" textLength={300} lengthAdjust="spacingAndGlyphs">
        Ion Fraction Probability Densities
      </text>
    );
    const colors = [BLUE, ORANGE, RED];
    const dashes = [undefined, DASH_MID, DASH_LOW];
    for (let k = 0; k < 3; k++) {
      const t = rowTop(p.legendRow + k);
      const x1 = p.legendX;
      const x2 = p.legendX + 34;
      els.push(<line key={`lgo${pi}-${k}`} x1={x1} x2={x2} y1={t + 20} y2={t + 20} stroke="#111" strokeWidth={5} strokeDasharray={dashes[k]} />);
      els.push(<line key={`lgc${pi}-${k}`} x1={x1} x2={x2} y1={t + 20} y2={t + 20} stroke={colors[k]} strokeWidth={3} strokeDasharray={dashes[k]} />);
      els.push(
        <text key={`lgt${pi}-${k}`} x={x1 + 44} y={t + 17} fontSize={15} fontFamily={FONT} fill="#111">
          {LEGEND_LABELS[k]}
        </text>
      );
      els.push(
        <text key={`lgp${pi}-${k}`} x={x1 + 44} y={t + 32} fontSize={15} fontFamily={FONT} fill="#111">
          phase
        </text>
      );
    }
    const lt = rowTop(N_ROWS - 1);
    if (pi < 2) {
      const x0 = p.left + 8;
      els.push(
        <text key={`nh${pi}`} x={x0} y={lt + 17} fontSize={17} fontFamily={FONT} fill="#111">
          log <tspan fontStyle="italic">N</tspan>
        </text>
      );
      els.push(<text key={`nhs${pi}`} x={x0 + 45} y={lt + 10} fontSize={13} fontFamily={FONT} fill="#111">total</text>);
      els.push(<text key={`nhb${pi}`} x={x0 + 39} y={lt + 22} fontSize={12} fontStyle="italic" fontFamily={FONT} fill="#111">H</text>);
      els.push(<text key={`nhv${pi}`} x={x0} y={lt + 39} fontSize={17} fontFamily={FONT} fill="#111">= {LOG_NH[pi]}</text>);
    } else {
      const x0 = 1008;
      els.push(
        <text key={`nh${pi}`} x={x0} y={lt + 24} fontSize={17} fontFamily={FONT} fill="#111">
          log <tspan fontStyle="italic">N</tspan>
        </text>
      );
      els.push(<text key={`nhs${pi}`} x={x0 + 47} y={lt + 17} fontSize={13} fontFamily={FONT} fill="#111">total</text>);
      els.push(<text key={`nhb${pi}`} x={x0 + 42} y={lt + 29} fontSize={12} fontStyle="italic" fontFamily={FONT} fill="#111">H</text>);
      els.push(<text key={`nhv${pi}`} x={x0 + 77} y={lt + 24} fontSize={17} fontFamily={FONT} fill="#111">= {LOG_NH[pi]}</text>);
    }
    els.push(
      <text key={`xl${pi}`} x={15 + dx} y={900} fontSize={26} fontFamily={FONT} fill="#111" textLength={34} lengthAdjust="spacingAndGlyphs">
        log
      </text>
    );
    els.push(
      <text key={`xls${pi}`} x={50 + dx} y={908} fontSize={16} fontFamily={FONT} fill="#111">
        10
      </text>
    );
    els.push(<path key={`lb${pi}`} d={`M ${93 + dx} 873 L ${86 + dx} 873 L ${86 + dx} 920 L ${93 + dx} 920`} fill="none" stroke="#111" strokeWidth={1.2} />);
    els.push(<path key={`rb${pi}`} d={`M ${431 + dx} 873 L ${438 + dx} 873 L ${438 + dx} 920 L ${431 + dx} 920`} fill="none" stroke="#111" strokeWidth={1.2} />);
    els.push(
      <text key={`num${pi}`} x={100 + dx} y={892} fontSize={17} fontFamily={FONT} fill="#111" textLength={325} lengthAdjust="spacingAndGlyphs">
        Modeled Column Density in One Phase
      </text>
    );
    els.push(<line key={`fb${pi}`} x1={95 + dx} x2={430 + dx} y1={896.5} y2={896.5} stroke="#111" strokeWidth={1.2} />);
    els.push(
      <text key={`den${pi}`} x={95 + dx} y={912} fontSize={17} fontFamily={FONT} fill="#111" textLength={335} lengthAdjust="spacingAndGlyphs">
        Modeled Column Densities in All Phases
      </text>
    );
    els.push(
      <text key={`sub${pi}`} x={p.center} y={960} fontSize={18} fontFamily={FONT} textAnchor="middle" fill="#111">
        {SUB_LABELS[pi]}
      </text>
    );
  });
  return (
    <svg width={1368} height={973} style={{ position: 'absolute', left: 0, top: 0, pointerEvents: 'none' }}>
      {els}
    </svg>
  );
}

export default function App() {
  return (
    <div style={{ position: 'absolute', left: 0, top: 0, width: 1368, height: 973, background: '#fff', fontFamily: FONT }}>
      <style>{'.lastrow .recharts-surface, .lastrow .recharts-wrapper { overflow: visible !important; }'}</style>
      {PANELS.map((p, pi) =>
        Array.from({ length: N_ROWS }, (_, i) => <RowChart key={`${pi}-${i}`} p={p} i={i} />)
      )}
      <Overlay />
    </div>
  );
}
